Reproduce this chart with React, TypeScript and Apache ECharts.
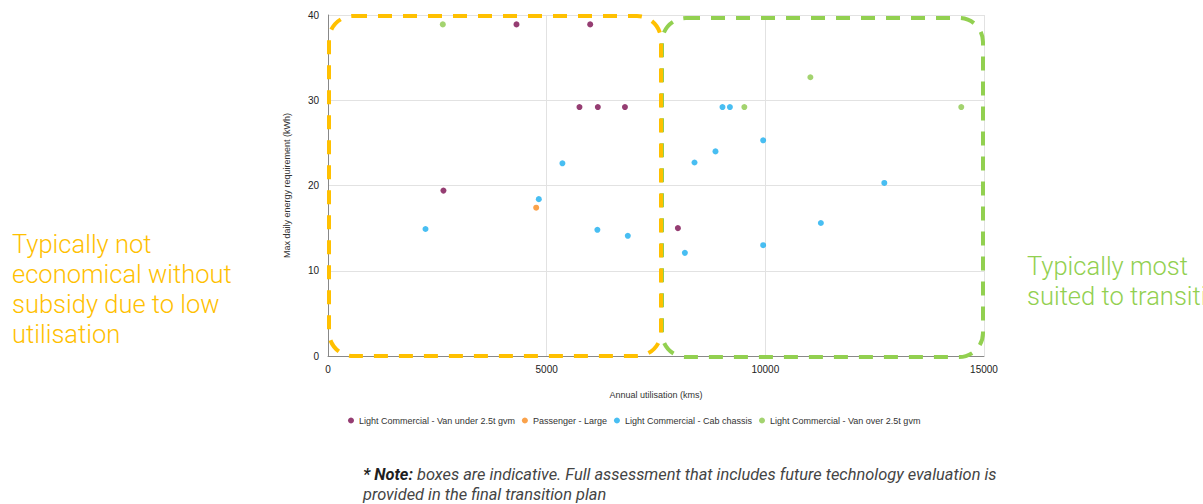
import React, { useEffect, useRef } from "react";
import * as echarts from "echarts";

const seriesNames = [
  "Light Commercial - Van under 2.5t gvm",
  "Passenger - Large",
  "Light Commercial - Cab chassis",
  "Light Commercial - Van over 2.5t gvm",
];
const seriesColors = ["#7B0C4F", "#F98B1E", "#1AAEEF", "#8CC84B"];

const vanUnder: number[][] = [
  [2640, 19.4],
  [4310, 38.9],
  [5995, 38.9],
  [5750, 29.2],
  [6170, 29.2],
  [6790, 29.2],
  [8000, 15.0],
];
const passengerLarge: number[][] = [[4760, 17.4]];
const cabChassis: number[][] = [
  [2230, 14.9],
  [4820, 18.4],
  [5360, 22.6],
  [6160, 14.8],
  [6855, 14.1],
  [8160, 12.1],
  [8380, 22.7],
  [8860, 24.0],
  [9020, 29.2],
  [9190, 29.2],
  [9950, 25.3],
  [9950, 13.0],
  [11270, 15.6],
  [12720, 20.3],
];
const vanOver: number[][] = [
  [2625, 38.9],
  [9520, 29.2],
  [11030, 32.7],
  [14480, 29.2],
];
const allSeries = [vanUnder, passengerLarge, cabChassis, vanOver];

const xTicks = { min: 0, max: 15000, interval: 5000 };
const yTicks = { min: 0, max: 40, interval: 10 };

const leftNote = "Typically not\neconomical without\nsubsidy due to low\nutilisation";
const rightNote = "Typically most\nsuited to transition";
const footNoteBold = "* Note:";
const footNoteLine1 = " boxes are indicative. Full assessment that includes future technology evaluation is";
const footNoteLine2 = "provided in the final transition plan";

export default function App() {
  const ref = useRef<HTMLDivElement>(null);
  useEffect(() => {
    document.body.style.margin = "0";
    const chart = echarts.init(ref.current!, null, { renderer: "svg" });
    const axisFont = { fontFamily: "Liberation Sans, Arial", fontSize: 10, color: "#222" };
    chart.setOption({
      animation: false,
      grid: { left: 328, right: 219, top: 15, bottom: 148 },
      xAxis: {
        type: "value",
        ...xTicks,
        name: "Annual utilisation (kms)",
        nameLocation: "middle",
        nameGap: 34,
        nameTextStyle: { fontFamily: "Liberation Sans, Arial", fontSize: 9, color: "#333" },
        axisLine: { show: true, lineStyle: { color: "#888" } },
        axisTick: { show: false },
        axisLabel: { ...axisFont, margin: 8, formatter: (v: number) => String(v) },
        splitLine: { show: true, lineStyle: { color: "#e2e2e2" } },
      },
      yAxis: {
        type: "value",
        ...yTicks,
        name: "Max daily energy requirement (kWh)",
        nameLocation: "middle",
        nameGap: 37,
        nameTextStyle: { fontFamily: "Liberation Sans, Arial", fontSize: 9, color: "#333" },
        axisLine: { show: true, lineStyle: { color: "#888" } },
        axisTick: { show: false },
        axisLabel: { ...axisFont, margin: 9, formatter: (v: number) => String(v) },
        splitLine: { show: true, lineStyle: { color: "#e2e2e2" } },
      },
      legend: {
        left: 343,
        top: 411,
        itemWidth: 6,
        itemHeight: 6,
        itemGap: 7,
        icon: "circle",
        textStyle: { fontFamily: "Liberation Sans, Arial", fontSize: 9, color: "#333" },
        data: seriesNames,
      },
      series: allSeries.map((d, i) => ({
        name: seriesNames[i],
        type: "scatter",
        symbolSize: 6,
        itemStyle: { color: seriesColors[i] },
        data: d,
      })),
      graphic: [
        {
          type: "rect",
          shape: { x: 329, y: 16, width: 332, height: 340, r: 24 },
          style: { fill: "none", stroke: "#FFC000", lineWidth: 4, lineDash: [14, 11] },
          z: 10,
        },
        {
          type: "rect",
          shape: { x: 662, y: 18, width: 321, height: 339, r: 24 },
          style: { fill: "none", stroke: "#92D050", lineWidth: 4, lineDash: [14, 11] },
          z: 9,
        },
        {
          type: "text",
          x: 12,
          y: 229,
          style: {
            text: leftNote,
            fill: "#FFC000",
            font: "300 25.5px Roboto",
            lineHeight: 30,
          },
        },
        {
          type: "text",
          x: 1027,
          y: 251,
          style: {
            text: rightNote,
            fill: "#92D050",
            font: "300 25.5px Roboto",
            lineHeight: 30,
          },
        },
        {
          type: "text",
          x: 363,
          y: 464,
          style: {
            text: `{b|${footNoteBold}}{i|${footNoteLine1}}\n{i|${footNoteLine2}}`,
            rich: {
              b: { fontFamily: "Roboto", fontStyle: "italic", fontWeight: "bold", fontSize: 16.4, fill: "#1f1f1f", lineHeight: 20 },
              i: { fontFamily: "Roboto", fontStyle: "italic", fontSize: 16.4, fill: "#444", lineHeight: 20 },
            },
          },
        },
      ],
    });
    return () => chart.dispose();
  }, []);
  return <div ref={ref} style={{ width: 1203, height: 504 }} />;
}
